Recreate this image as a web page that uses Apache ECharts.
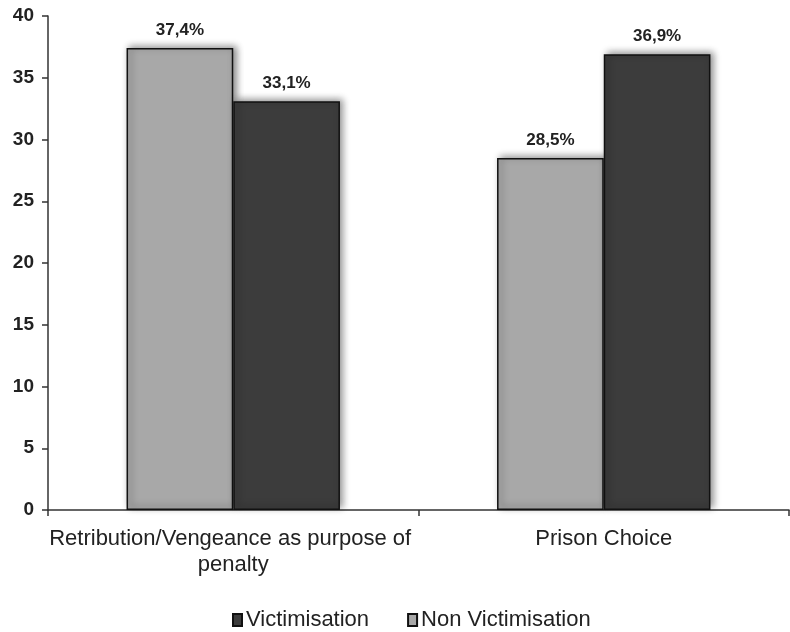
<!DOCTYPE html>
<html><head><meta charset="utf-8">
<script src="https://cdn.jsdelivr.net/npm/echarts@6/dist/echarts.min.js"></script>
<style>html,body{margin:0;padding:0;background:#fff}#c{width:790px;height:632px}</style>
</head><body><div id="c"></div>
<script>
var categories = ['Retribution/Vengeance as purpose of penalty', 'Prison Choice'];
var nonVictimisation = [37.4, 28.5];
var victimisation = [33.1, 36.9];
var yTicks = [0, 5, 10, 15, 20, 25, 30, 35, 40];

var chart = echarts.init(document.getElementById('c'));
var font = 'Liberation Sans, Arial, sans-serif';
function lbl(p){ return p.value.toFixed(1).replace('.', ',') + '%'; }
var shadow = {shadowColor:'rgba(0,0,0,0.45)', shadowBlur:7, shadowOffsetX:3, shadowOffsetY:-2};
chart.setOption({
  animation:false,
  backgroundColor:'#fff',
  grid:{left:48, right:-6, top:16, bottom:122, containLabel:false},
  legend:{
    data:['Victimisation','Non Victimisation'],
    top:604, left:227,
    itemWidth:9, itemHeight:12, itemGap:38,
    icon:'rect',
    textStyle:{fontFamily:font, fontSize:22, color:'#222', padding:[0,0,0,-1]}
  },
  xAxis:{
    type:'category', data:categories,
    axisLine:{lineStyle:{color:'#333', width:1.5}},
    axisTick:{show:true, alignWithLabel:false, length:6, lineStyle:{color:'#333', width:1.5}},
    axisLabel:{fontFamily:font, fontSize:22, color:'#222', margin:16, width:370, overflow:'break', lineHeight:26, interval:0}
  },
  yAxis:{
    type:'value', min:yTicks[0], max:yTicks[yTicks.length-1], interval:5,
    splitLine:{show:false},
    axisLine:{show:true, lineStyle:{color:'#333', width:1.5}},
    axisTick:{show:true, length:6, lineStyle:{color:'#333', width:1.5}},
    axisLabel:{fontFamily:font, fontSize:19, fontWeight:'bold', color:'#222', margin:14}
  },
  series:[
    {name:'Non Victimisation', type:'bar', data:nonVictimisation, barWidth:'28.8%', barGap:'0%',
     itemStyle:Object.assign({color:'#a8a8a8', borderColor:'#111', borderWidth:1.5}, shadow),
     label:{show:true, position:'top', distance:9, formatter:lbl, fontFamily:font, fontSize:17, fontWeight:'bold', color:'#222'}},
    {name:'Victimisation', type:'bar', data:victimisation, barWidth:'28.8%', barGap:'0%',
     itemStyle:Object.assign({color:'#3c3c3c', borderColor:'#111', borderWidth:1.5}, shadow),
     label:{show:true, position:'top', distance:9, formatter:lbl, fontFamily:font, fontSize:17, fontWeight:'bold', color:'#222'}}
  ]
});
</script></body></html>
